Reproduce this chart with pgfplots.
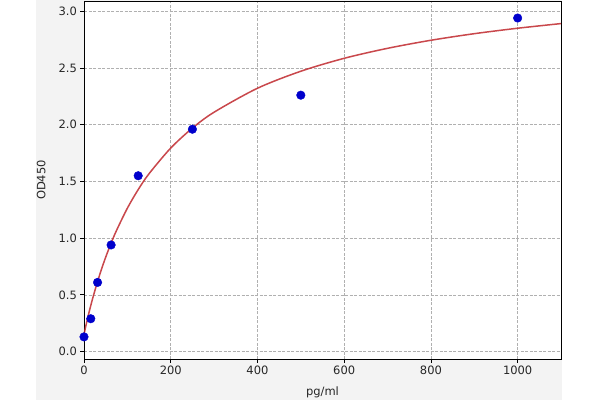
\documentclass[border=0pt]{standalone}
\usepackage{pgfplots}
\pgfplotsset{compat=1.18}
\usepackage{fontspec}
\setmainfont{DejaVu Sans}
\definecolor{bgg}{HTML}{F3F3F3}
\definecolor{ptblue}{HTML}{0000CC}
\definecolor{fitred}{HTML}{C0282D}
\definecolor{gridg}{HTML}{B0B0B0}
\begin{document}
\begin{tikzpicture}[x=1pt,y=1pt]
\useasboundingbox (0,0) rectangle (600,400);
\fill[bgg] (36,0) rectangle (562,400);
\begin{axis}[
  at={(84pt,41pt)}, anchor=south west,
  scale only axis, width=477pt, height=358pt,
  xmin=0, xmax=1100, ymin=-0.065, ymax=3.09,
  axis background/.style={fill=white},
  xtick={0,200,400,600,800,1000},
  ytick={0,0.5,1,1.5,2,2.5,3},
  xticklabel style={/pgf/number format/1000 sep={}},
  yticklabel style={/pgf/number format/fixed,/pgf/number format/fixed zerofill,/pgf/number format/precision=1},
  /pgf/number format/assume math mode=true,
  /pgf/number format/1000 sep={},
  tick align=outside, tick pos=left,
  major tick length=3.5pt,
  every tick/.style={black, line width=0.8pt},
  ticklabel style={font=\fontsize{11.5}{13}\selectfont, text=black!85},
  grid=major,
  major grid style={gridg, dash pattern=on 3pt off 1.5pt, line width=0.7pt},
  axis line style={black, line width=0.9pt},
  xlabel={pg/ml}, ylabel={OD450},
  label style={font=\fontsize{11.5}{13}\selectfont, text=black!85},
  xlabel style={at={(axis description cs:0.5,-0.092)}, anchor=center},
  ylabel style={at={(axis description cs:-0.09,0.5)}, anchor=center},
  clip=false,
]
\addplot[only marks, mark=*, mark size=4.3pt, ptblue, mark options={draw=ptblue, fill=ptblue}] coordinates {
  (0,0.13) (15.6,0.29) (31.25,0.61) (62.5,0.94) (125,1.55) (250,1.96) (500,2.26) (1000,2.94)
};
\addplot[fitred, line width=1.5pt, opacity=0.85, smooth] coordinates {
  (0,0.15) (1,0.169) (2,0.187) (5,0.239) (10,0.321) (15,0.397) (20,0.469) (30,0.602)
  (40,0.722) (50,0.832) (62.5,0.956) (75,1.068) (100,1.264) (125,1.428) (150,1.568)
  (200,1.794) (250,1.97) (300,2.110) (400,2.321) (500,2.471) (600,2.585) (700,2.673)
  (800,2.744) (900,2.802) (1000,2.85) (1100,2.891)
};
\end{axis}
\end{tikzpicture}
\end{document}
